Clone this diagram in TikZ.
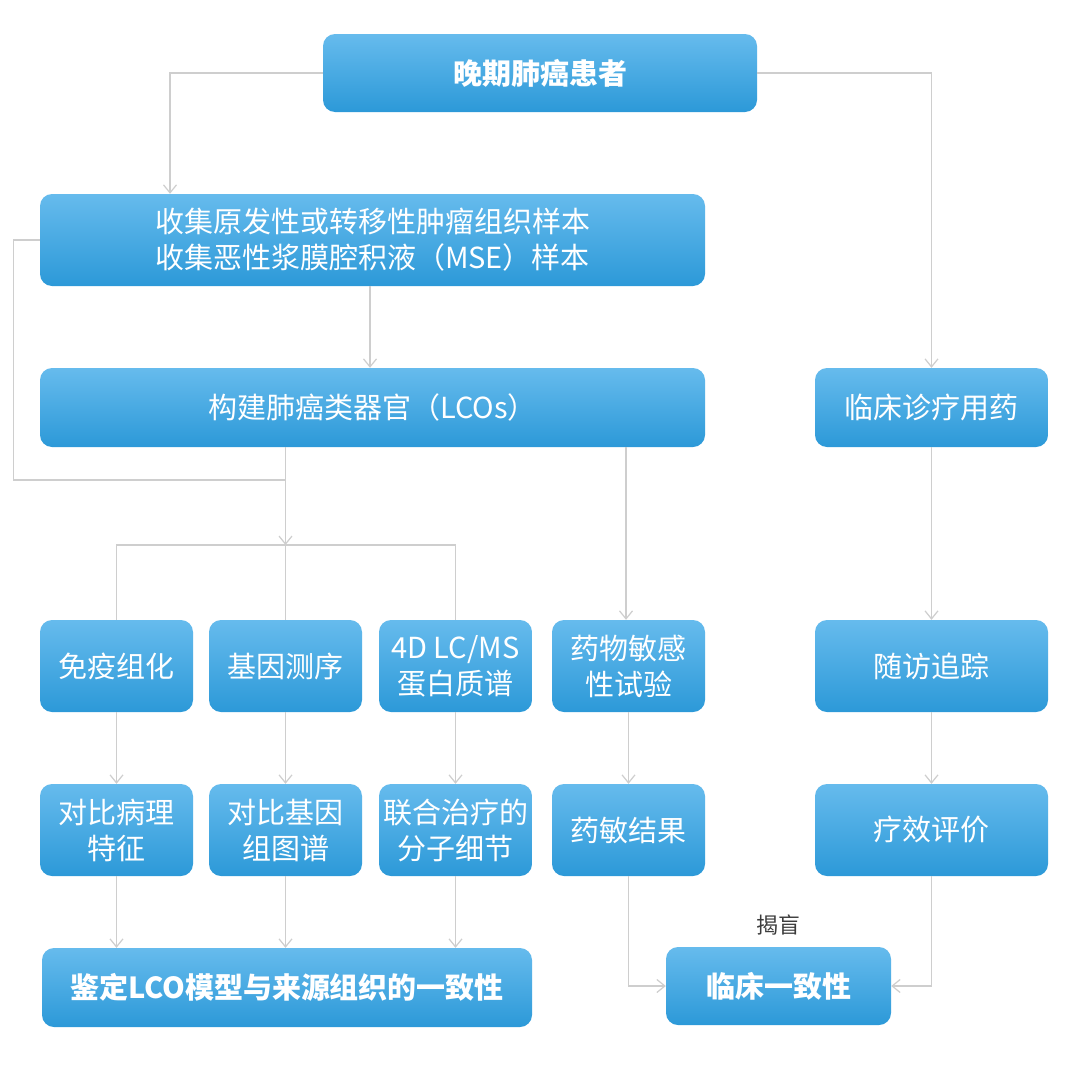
\documentclass[tikz,border=0pt]{standalone}
\usepackage{fontspec}
\setmainfont{Noto Sans CJK SC}
\usetikzlibrary{arrows.meta}

\definecolor{boxtop}{RGB}{102,187,237}
\definecolor{boxbot}{RGB}{44,153,216}
\definecolor{linkgray}{RGB}{206,206,206}
\definecolor{notegray}{RGB}{60,60,60}

\tikzset{
  box/.style={rounded corners=12pt, top color=boxtop, bottom color=boxbot,
    text=white, align=center, inner sep=0pt,
    font=\fontsize{29}{36}\selectfont},
  boldbox/.style={box, font=\fontsize{29}{36}\selectfont\bfseries},
  link/.style={draw=linkgray, line width=1.2pt},
  arr/.style={link, -{Straight Barb[length=8pt,width=13pt,line width=1.2pt]}},
}

\begin{document}
\begin{tikzpicture}[x=1pt, y=-1pt]
  \useasboundingbox[fill=white] (0,0) rectangle (1080,1071);
  % Top rows
  \node[boldbox, minimum width=434pt, minimum height=78pt] (patient) at (540,73) {晚期肺癌患者};
  \node[box, minimum width=665pt, minimum height=92pt] (collect) at (372.5,240)
       {收集原发性或转移性肿瘤组织样本\\收集恶性浆膜腔积液（MSE）样本};
  \node[box, minimum width=665pt, minimum height=79pt] (lco) at (372.5,407.5) {构建肺癌类器官（LCOs）};
  \node[box, minimum width=233pt, minimum height=79pt] (clinic) at (931.5,407.5) {临床诊疗用药};
  % Assay row
  \node[box, minimum width=153pt, minimum height=92pt] (ihc) at (116.5,666) {免疫组化};
  \node[box, minimum width=153pt, minimum height=92pt] (seq) at (285.5,666) {基因测序};
  \node[box, minimum width=153pt, minimum height=92pt] (ms) at (455.5,666) {4D LC/MS\\蛋白质谱};
  \node[box, minimum width=153pt, minimum height=92pt] (dst) at (628.5,666) {药物敏感\\性试验};
  \node[box, minimum width=233pt, minimum height=92pt] (follow) at (931.5,666) {随访追踪};
  % Result row
  \node[box, minimum width=153pt, minimum height=92pt] (patho) at (116.5,830) {对比病理\\特征};
  \node[box, minimum width=153pt, minimum height=92pt] (geno) at (285.5,830) {对比基因\\组图谱};
  \node[box, minimum width=153pt, minimum height=92pt] (combo) at (455.5,830) {联合治疗的\\分子细节};
  \node[box, minimum width=153pt, minimum height=92pt] (dsres) at (628.5,830) {药敏结果};
  \node[box, minimum width=233pt, minimum height=92pt] (effic) at (931.5,830) {疗效评价};
  % Bottom row
  \node[boldbox, minimum width=490pt, minimum height=79pt] (ident) at (287,987.5) {鉴定LCO模型与来源组织的一致性};
  \node[boldbox, minimum width=225pt, minimum height=78pt] (consist) at (778.5,986) {临床一致性};
  \node[text=notegray, font=\fontsize{22}{26}\selectfont] (blind) at (778,925) {揭盲};
  % Bend points
  \coordinate (hub) at (285.5,545);
  \coordinate (merge) at (285.5,480);
  % Connectors
  \draw[arr] (patient.west) -| (170,0 |- collect.north);
  \draw[arr] (patient.east) -| (clinic.north);
  \draw[arr] (collect.south -| 370,0) -- (370,0 |- lco.north);
  \draw[link] (collect.west) -- ++(-26,0) |- (merge);
  \draw[arr] (lco.south -| hub) -- (hub);
  \draw[link] (ihc.north) |- (hub) -| (ms.north);
  \draw[link] (hub) -- (seq.north);
  \draw[arr] (lco.south -| 626,0) -- (626,0 |- dst.north);
  \draw[arr] (clinic) -- (follow);
  \foreach \a/\b in {ihc/patho, seq/geno, ms/combo, dst/dsres, follow/effic} {
    \draw[arr] (\a) -- (\b);
  }
  \foreach \a in {patho, geno, combo} {
    \draw[arr] (\a.south) -- (\a.south |- ident.north);
  }
  \draw[arr] (dsres.south) |- (consist.west);
  \draw[arr] (effic.south) |- (consist.east);
\end{tikzpicture}
\end{document}
